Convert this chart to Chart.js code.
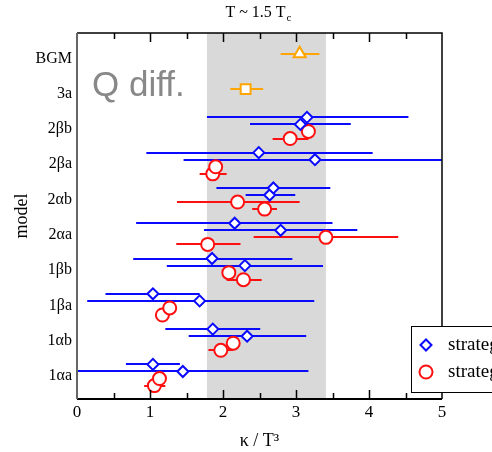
<!DOCTYPE html>
<html>
<head>
<meta charset="utf-8">
<script src="https://cdn.jsdelivr.net/npm/chart.js@4.4.0/dist/chart.umd.min.js"></script>
<style>
  body { margin: 0; background: #fff; }
  canvas { display: block; }
</style>
</head>
<body>
<canvas id="kappaChart" width="492" height="452"></canvas>
<script>
const models = ['1αa', '1αb', '1βa', '1βb', '2αa', '2αb', '2βa', '2βb', '3a', 'BGM'];

// strategy 1 (blue diamonds), two estimates per model
const s1aVal  = [1.04, 1.86, 1.04, 1.85, 2.16, 2.69, 2.49, 3.15];
const s1aLow  = [0.67, 1.21, 0.39, 0.77, 0.81, 1.91, 0.95, 1.78];
const s1aHigh = [1.41, 2.51, 1.68, 2.95, 3.50, 3.47, 4.05, 4.54];

const s1bVal  = [1.45, 2.33, 1.68, 2.30, 2.79, 2.64, 3.26, 3.06];
const s1bLow  = [-0.1, 1.53, 0.14, 1.23, 1.74, 2.31, 1.46, 2.37];
const s1bHigh = [3.17, 3.14, 3.25, 3.37, 3.84, 2.99, 5.3, 3.75];

// strategy 2 (red circles)
const s2aVal  = [1.13, 2.14, 1.27, 2.08, 3.41, 2.20, 1.90, 3.17];
const s2aLow  = [1.08, 2.10, 1.22, 2.03, 2.42, 1.37, 1.83, 3.12];
const s2aHigh = [1.18, 2.19, 1.31, 2.13, 4.40, 3.05, 1.97, 3.22];

const s2bVal  = [1.06, 1.97, 1.17, 2.28, 1.79, 2.57, 1.86, 2.92];
const s2bLow  = [0.92, 1.80, 1.07, 2.05, 1.36, 2.40, 1.68, 2.68];
const s2bHigh = [1.21, 2.14, 1.27, 2.53, 2.24, 2.74, 2.05, 3.17];

// 3a (square) and BGM (triangle)
const val3a = 2.31, low3a = 2.10, high3a = 2.55;
const valBGM = 3.05, lowBGM = 2.79, highBGM = 3.32;

// shaded band
const bandLow = 1.78, bandHigh = 3.41;

const legendLabels = ['strategy 1', 'strategy 2'];

// vertical slot of each estimate inside a model row
const rowOffsets = [0.33, 0.13, -0.07, -0.27];

function makePoints(vals, lows, highs, offset) {
    return vals.map((v, i) => ({ x: v, y: i + offset, xMin: lows[i], xMax: highs[i] }));
}

const BLUE = '#0a0aff';
const RED = '#ff1010';
const ORANGE = '#ffa500';
const SERIF = "'Liberation Serif', 'DejaVu Serif', serif";

const bandAndBars = {
    id: 'bandAndBars',
    beforeDatasetsDraw(chart) {
        const { ctx, chartArea: a, scales: { x, y } } = chart;
        ctx.save();
        // grey band
        ctx.fillStyle = '#d9d9d9';
        const bx0 = x.getPixelForValue(bandLow), bx1 = x.getPixelForValue(bandHigh);
        ctx.fillRect(bx0, a.top, bx1 - bx0, a.bottom - a.top);

        ctx.beginPath();
        ctx.rect(a.left, a.top, a.right - a.left, a.bottom - a.top);
        ctx.clip();
        chart.data.datasets.forEach(ds => {
            ctx.strokeStyle = ds.borderColor;
            ctx.lineWidth = 2;
            ds.data.forEach(p => {
                const py = Math.round(y.getPixelForValue(p.y));
                ctx.beginPath();
                ctx.moveTo(x.getPixelForValue(p.xMin), py);
                ctx.lineTo(x.getPixelForValue(p.xMax), py);
                ctx.stroke();
            });
        });
        ctx.restore();
    },
    afterDraw(chart) {
        const { ctx, chartArea: a, scales: { x } } = chart;
        ctx.save();

        // frame
        ctx.strokeStyle = '#000';
        ctx.lineWidth = 1.5;
        ctx.beginPath();
        ctx.moveTo(a.left, a.top); ctx.lineTo(a.right, a.top); ctx.lineTo(a.right, a.bottom);
        ctx.stroke();
        ctx.lineWidth = 2;
        ctx.beginPath();
        ctx.moveTo(a.left, a.bottom); ctx.lineTo(a.right, a.bottom);
        ctx.stroke();
        ctx.strokeStyle = '#666';
        ctx.beginPath();
        ctx.moveTo(a.left, a.top); ctx.lineTo(a.left, a.bottom);
        ctx.stroke();

        // inward ticks top and bottom
        ctx.strokeStyle = '#000';
        ctx.lineWidth = 1.5;
        for (let v = 0.5; v < 5; v += 0.5) {
            const px = Math.round(x.getPixelForValue(v)) + 0.5;
            const len = Number.isInteger(v) ? 9 : 6;
            ctx.beginPath();
            ctx.moveTo(px, a.bottom); ctx.lineTo(px, a.bottom - len);
            ctx.moveTo(px, a.top); ctx.lineTo(px, a.top + len);
            ctx.stroke();
        }

        // Q diff. label
        ctx.fillStyle = '#888';
        ctx.font = "35px 'Liberation Sans', Arial, sans-serif";
        ctx.textBaseline = 'alphabetic';
        ctx.textAlign = 'left';
        ctx.fillText('Q diff.', 92, 96);

        // title with subscript
        ctx.fillStyle = '#000';
        ctx.font = '16px ' + SERIF;
        const main = 'T ~ 1.5 T';
        const w = ctx.measureText(main).width;
        const cx = (a.left + a.right) / 2 - 4;
        ctx.fillText(main, cx - w / 2, 17);
        ctx.font = '11px ' + SERIF;
        ctx.fillText('c', cx + w / 2 + 1, 21);

        // legend box
        ctx.fillStyle = '#fff';
        ctx.fillRect(411, 326, 100, 66);
        ctx.strokeStyle = '#000';
        ctx.lineWidth = 1;
        ctx.strokeRect(411.5, 326.5, 100, 66);
        const legendStyles = [
            { style: 'rectRot', color: BLUE, r: 5.5 },
            { style: 'circle', color: RED, r: 6.5 }
        ];
        legendLabels.forEach((lbl, i) => {
            const ly = 345 + i * 27;
            const st = legendStyles[i];
            ctx.fillStyle = '#fff';
            ctx.strokeStyle = st.color;
            ctx.lineWidth = 2;
            Chart.helpers.drawPoint(ctx, { pointStyle: st.style, radius: st.r, borderWidth: 2 }, 426, ly);
            ctx.fillStyle = '#000';
            ctx.font = '19px ' + SERIF;
            ctx.textBaseline = 'middle';
            ctx.fillText(lbl, 448, ly);
        });
        ctx.restore();
    }
};

const ctxK = document.getElementById('kappaChart').getContext('2d');
const kappaChart = new Chart(ctxK, {
    type: 'scatter',
    data: {
        datasets: [
            {
                label: legendLabels[0],
                data: makePoints(s1aVal, s1aLow, s1aHigh, rowOffsets[0]),
                pointStyle: 'rectRot', pointRadius: 5.5, borderWidth: 2,
                borderColor: BLUE, backgroundColor: '#fff'
            },
            {
                label: legendLabels[0],
                data: makePoints(s1bVal, s1bLow, s1bHigh, rowOffsets[1]),
                pointStyle: 'rectRot', pointRadius: 5.5, borderWidth: 2,
                borderColor: BLUE, backgroundColor: '#fff'
            },
            {
                label: legendLabels[1],
                data: makePoints(s2aVal, s2aLow, s2aHigh, rowOffsets[2]),
                pointStyle: 'circle', pointRadius: 6.5, borderWidth: 2,
                borderColor: RED, backgroundColor: '#fff'
            },
            {
                label: legendLabels[1],
                data: makePoints(s2bVal, s2bLow, s2bHigh, rowOffsets[3]),
                pointStyle: 'circle', pointRadius: 6.5, borderWidth: 2,
                borderColor: RED, backgroundColor: '#fff'
            },
            {
                label: '3a',
                data: [{ x: val3a, y: 8 + rowOffsets[1], xMin: low3a, xMax: high3a }],
                pointStyle: 'rect', pointRadius: 7, borderWidth: 2,
                borderColor: ORANGE, backgroundColor: '#fff'
            },
            {
                label: 'BGM',
                data: [{ x: valBGM, y: 9 + rowOffsets[1], xMin: lowBGM, xMax: highBGM }],
                pointStyle: 'triangle', pointRadius: 7, borderWidth: 2,
                borderColor: ORANGE, backgroundColor: '#fff'
            }
        ]
    },
    options: {
        responsive: false,
        animation: false,
        devicePixelRatio: 1,
        layout: { padding: { left: 0, right: 50, top: 33, bottom: 0 } },
        plugins: { legend: { display: false }, tooltip: { enabled: false } },
        scales: {
            x: {
                type: 'linear',
                min: 0, max: 5,
                afterFit: s => { s.height = 53; },
                grid: { display: false, drawTicks: false },
                border: { display: false },
                ticks: { stepSize: 1, padding: 3, color: '#000', font: { family: SERIF, size: 17 } },
                title: { display: true, text: 'κ / T³', color: '#000', font: { family: SERIF, size: 18 }, padding: { top: 4, bottom: 0 } }
            },
            y: {
                type: 'linear',
                min: -0.65, max: 9.72,
                afterFit: s => { s.width = 77; },
                afterBuildTicks: s => { s.ticks = models.map((m, i) => ({ value: i })); },
                grid: { display: false, drawTicks: false },
                border: { display: false },
                ticks: {
                    padding: 5, color: '#000', font: { family: SERIF, size: 16 },
                    callback: v => models[v]
                },
                title: { display: true, text: 'model', color: '#000', font: { family: SERIF, size: 18 }, padding: { top: 11, bottom: 0 } }
            }
        }
    },
    plugins: [bandAndBars]
});
</script>
</body>
</html>
